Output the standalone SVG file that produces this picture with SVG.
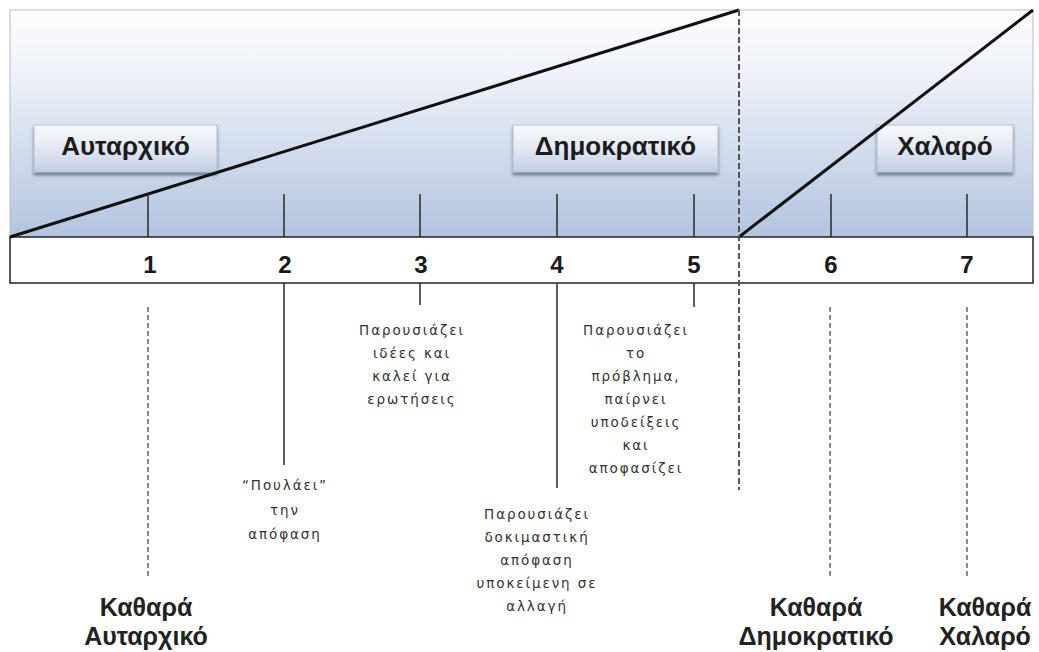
<svg xmlns="http://www.w3.org/2000/svg" width="1039" height="652" viewBox="0 0 1039 652">
  <defs>
    <linearGradient id="panelFill" x1="0" y1="0" x2="0" y2="1">
      <stop offset="0" stop-color="#fdfdfe"/>
      <stop offset="0.3" stop-color="#edf1f8"/>
      <stop offset="1" stop-color="#b2c4df"/>
    </linearGradient>
    <linearGradient id="boxFill" x1="0" y1="0" x2="0" y2="1">
      <stop offset="0" stop-color="#f7f9fc"/>
      <stop offset="0.5" stop-color="#e3e9f3"/>
      <stop offset="1" stop-color="#c0cee4"/>
    </linearGradient>
    <filter id="boxShadow" x="-10%" y="-20%" width="120%" height="150%">
      <feDropShadow dx="0" dy="3" stdDeviation="1.5" flood-color="#55667f" flood-opacity="0.75"/>
    </filter>
    <style>
      .boxLabel { font-family: "Liberation Sans", Arial, sans-serif; font-weight: bold; font-size: 26px; fill: #1c1c1c; text-anchor: middle; }
      .num { font-family: "Liberation Sans", Arial, sans-serif; font-weight: bold; font-size: 24px; fill: #1a1a1a; text-anchor: middle; }
      .note { font-family: "DejaVu Sans", Verdana, sans-serif; font-size: 13.5px; letter-spacing: 1.9px; fill: #333; text-anchor: middle; }
      .pole { font-family: "Liberation Sans", Arial, sans-serif; font-weight: bold; font-size: 25px; fill: #222; text-anchor: middle; }
      .tick { stroke: #2a2a2a; stroke-width: 1.5; fill: none; }
      .slope { stroke: #111; stroke-width: 3; fill: none; }
      .divider { stroke: #555; stroke-width: 2; stroke-dasharray: 6 3; fill: none; }
      .guide { stroke: #666; stroke-width: 1.5; stroke-dasharray: 5 3; fill: none; }
      .box { fill: url(#boxFill); stroke: #b4bfce; stroke-width: 1; filter: url(#boxShadow); }
    </style>
  </defs>

  <rect width="1039" height="652" fill="#ffffff"/>

  <!-- upper band with gradient -->
  <g id="panel">
    <rect x="10" y="10" width="1023" height="227" fill="url(#panelFill)" stroke="#b3bccb" stroke-width="1"/>
  </g>

  <!-- scale bar -->
  <g id="scale">
    <rect x="10" y="237" width="1023" height="46" fill="#ffffff" stroke="#222" stroke-width="1.5"/>
    <text class="num" x="150" y="273">1</text>
    <text class="num" x="285" y="273">2</text>
    <text class="num" x="421" y="273">3</text>
    <text class="num" x="557" y="273">4</text>
    <text class="num" x="694" y="273">5</text>
    <text class="num" x="831" y="273">6</text>
    <text class="num" x="967" y="273">7</text>
  </g>

  <!-- style boxes -->
  <g id="style-autocratic">
    <rect class="box" x="34" y="125" width="183" height="47"/>
    <text class="boxLabel" x="125.5" y="155">Αυταρχικό</text>
  </g>
  <g id="style-democratic">
    <rect class="box" x="513" y="125" width="205" height="47"/>
    <text class="boxLabel" x="615.5" y="155">Δημοκρατικό</text>
  </g>
  <g id="style-laissez">
    <rect class="box" x="877" y="125" width="136" height="47"/>
    <text class="boxLabel" x="945" y="155">Χαλαρό</text>
  </g>

  <!-- connectors: slopes, ticks and guide lines -->
  <g id="connectors">
    <line class="slope" x1="10" y1="237" x2="739" y2="10"/>
    <line class="slope" x1="739" y1="237" x2="1033" y2="10"/>
    <line class="divider" x1="739" y1="10" x2="739" y2="490"/>

    <line class="tick" x1="148" y1="194" x2="148" y2="237"/>
    <line class="tick" x1="284" y1="194" x2="284" y2="237"/>
    <line class="tick" x1="420" y1="194" x2="420" y2="237"/>
    <line class="tick" x1="557" y1="194" x2="557" y2="237"/>
    <line class="tick" x1="694" y1="194" x2="694" y2="237"/>
    <line class="tick" x1="831" y1="194" x2="831" y2="237"/>
    <line class="tick" x1="967" y1="194" x2="967" y2="237"/>

    <line class="tick" x1="284" y1="283" x2="284" y2="465"/>
    <line class="tick" x1="420" y1="283" x2="420" y2="305"/>
    <line class="tick" x1="557" y1="283" x2="557" y2="488"/>
    <line class="tick" x1="694" y1="283" x2="694" y2="307"/>

    <line class="guide" x1="148" y1="307" x2="148" y2="578"/>
    <line class="guide" x1="830" y1="307" x2="830" y2="577"/>
    <line class="guide" x1="967" y1="307" x2="967" y2="577"/>
  </g>

  <!-- step descriptions -->
  <g id="step-2">
    <text class="note" x="285" y="490">“Πουλάει”</text>
    <text class="note" x="285" y="515">την</text>
    <text class="note" x="285" y="539">απόφαση</text>
  </g>
  <g id="step-3">
    <text class="note" x="412" y="335">Παρουσιάζει</text>
    <text class="note" x="412" y="358">ιδέες και</text>
    <text class="note" x="412" y="381">καλεί για</text>
    <text class="note" x="412" y="404">ερωτήσεις</text>
  </g>
  <g id="step-4">
    <text class="note" x="537" y="519">Παρουσιάζει</text>
    <text class="note" x="537" y="542">δοκιμαστική</text>
    <text class="note" x="537" y="565">απόφαση</text>
    <text class="note" x="537" y="588">υποκείμενη σε</text>
    <text class="note" x="537" y="611">αλλαγή</text>
  </g>
  <g id="step-5">
    <text class="note" x="636" y="335">Παρουσιάζει</text>
    <text class="note" x="636" y="358">το</text>
    <text class="note" x="636" y="381">πρόβλημα,</text>
    <text class="note" x="636" y="404">παίρνει</text>
    <text class="note" x="636" y="427">υποδείξεις</text>
    <text class="note" x="636" y="450">και</text>
    <text class="note" x="636" y="473">αποφασίζει</text>
  </g>

  <!-- extremes -->
  <g id="pole-autocratic">
    <text class="pole" x="146" y="616">Καθαρά</text>
    <text class="pole" x="146" y="645">Αυταρχικό</text>
  </g>
  <g id="pole-democratic">
    <text class="pole" x="816" y="616">Καθαρά</text>
    <text class="pole" x="816" y="645">Δημοκρατικό</text>
  </g>
  <g id="pole-laissez">
    <text class="pole" x="985" y="616">Καθαρά</text>
    <text class="pole" x="985" y="645">Χαλαρό</text>
  </g>
</svg>
